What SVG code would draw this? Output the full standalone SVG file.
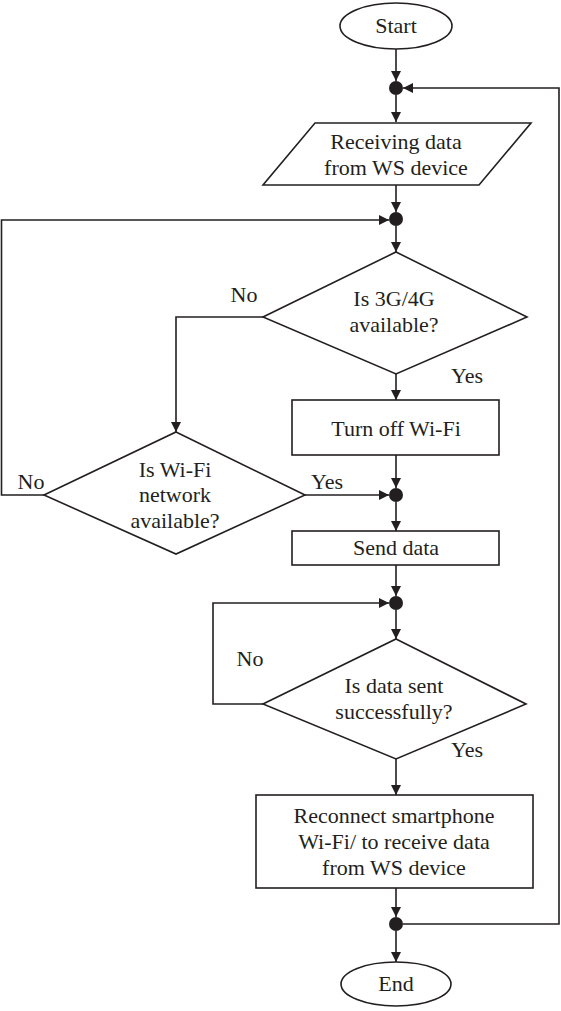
<svg xmlns="http://www.w3.org/2000/svg" width="561" height="1011" viewBox="0 0 561 1011">
<style>
.shape{fill:#fff;stroke:#231f20;stroke-width:1.6}
.dot{fill:#231f20}
.conn{fill:none;stroke:#231f20;stroke-width:1.6}
text{font-family:"Liberation Serif","Times New Roman",serif;font-size:22px;fill:#231f20;text-anchor:middle}
</style>
<defs>
<marker id="arr" viewBox="0 0 10 10" refX="10" refY="5" markerWidth="10" markerHeight="10" markerUnits="userSpaceOnUse" orient="auto">
<path d="M0,0 L10,5 L0,10 z" fill="#231f20"/>
</marker>
</defs>
<rect width="561" height="1011" fill="#fff"/>
<g id="connectors" class="conn" marker-end="url(#arr)">
<path d="M396,49 V81"/>
<path d="M396,95 V122"/>
<path d="M403,924 H559 V88 H403"/>
<path d="M396,185 V212"/>
<path d="M396,226 V252"/>
<path d="M263,317 H176 V432"/>
<path d="M396,374 V400"/>
<path d="M44,495 H1.5 V220 H389"/>
<path d="M305,495 H389"/>
<path d="M396,455 V488"/>
<path d="M396,502 V531"/>
<path d="M396,565 V596"/>
<path d="M396,610 V639"/>
<path d="M263,704 H213 V603 H389"/>
<path d="M396,759 V795"/>
<path d="M396,888 V917"/>
<path d="M396,931 V962"/>
</g>
<g id="start"><ellipse class="shape" cx="396" cy="26" rx="56" ry="23"/><text x="396" y="33">Start</text></g>
<g id="j1"><circle class="dot" cx="396" cy="88" r="7"/></g>
<g id="receive"><polygon class="shape" points="315,123 531,123 479,185 263,185"/><text x="396" y="149">Receiving data</text><text x="396" y="175">from WS device</text></g>
<g id="j2"><circle class="dot" cx="396" cy="219" r="7"/></g>
<g id="d3g"><polygon class="shape" points="396,252 527,317 396,374 263,317"/><text x="394" y="306">Is 3G/4G</text><text x="394" y="332">available?</text></g>
<g id="lbl-no1"><text x="244" y="302">No</text></g>
<g id="lbl-yes1"><text x="467" y="383">Yes</text></g>
<g id="turnoff"><rect class="shape" x="292" y="400" width="207" height="55"/><text x="396" y="436">Turn off Wi-Fi</text></g>
<g id="dwifi"><polygon class="shape" points="176,432 305,495 176,554 44,495"/><text x="175" y="477">Is Wi-Fi</text><text x="175" y="502">network</text><text x="175" y="528">available?</text></g>
<g id="lbl-no2"><text x="31" y="489">No</text></g>
<g id="lbl-yes2"><text x="327" y="489">Yes</text></g>
<g id="j3"><circle class="dot" cx="396" cy="495" r="7"/></g>
<g id="send"><rect class="shape" x="292" y="531" width="207" height="34"/><text x="396" y="555">Send data</text></g>
<g id="j4"><circle class="dot" cx="396" cy="603" r="7"/></g>
<g id="dsent"><polygon class="shape" points="396,639 526,704 396,759 263,704"/><text x="394" y="693">Is data sent</text><text x="394" y="719">successfully?</text></g>
<g id="lbl-no3"><text x="250" y="666">No</text></g>
<g id="lbl-yes3"><text x="467" y="757">Yes</text></g>
<g id="reconnect"><rect class="shape" x="256" y="795" width="277" height="93"/><text x="394" y="823">Reconnect smartphone</text><text x="394" y="849">Wi-Fi/ to receive data</text><text x="394" y="875">from WS device</text></g>
<g id="j5"><circle class="dot" cx="396" cy="924" r="7"/></g>
<g id="end"><ellipse class="shape" cx="396" cy="984" rx="55" ry="22"/><text x="396" y="991">End</text></g>
</svg>
